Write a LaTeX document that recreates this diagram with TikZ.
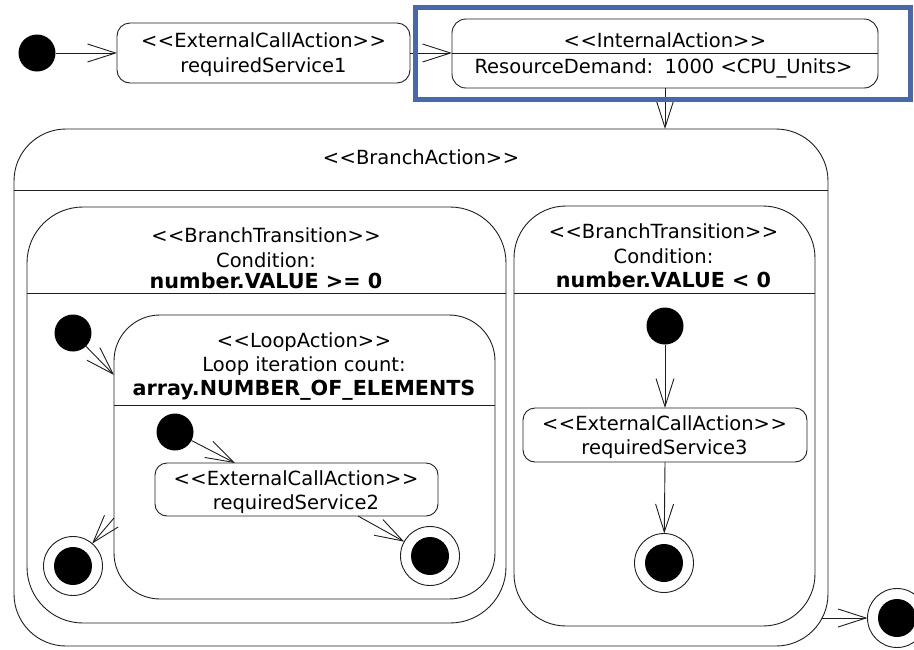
\documentclass[tikz,border=0pt]{standalone}
\usepackage{fontspec}
\setmainfont{DejaVu Sans}
\usetikzlibrary{arrows.meta}
\definecolor{linec}{RGB}{30,30,30}
\definecolor{hlblue}{RGB}{72,103,172}
\newcommand\guiL{<\kern0.5pt<}
\newcommand\guiR{>\kern0.5pt>}
\begin{document}
\begin{tikzpicture}[x=1pt,y=-1pt,
  every node/.style={inner sep=0pt, outer sep=0pt},
  txt/.style={font=\fontsize{19.5}{23}\selectfont, text=black, anchor=base},
  btxt/.style={txt, font=\fontsize{20.7}{24}\selectfont\bfseries},
  box/.style={rectangle, draw=linec, line width=0.9pt, rounded corners=#1},
  sep/.style={draw=linec, line width=0.9pt},
  dot/.style={circle, fill=black, minimum size=37pt},
  fin/.style={circle, draw=linec, line width=0.9pt, minimum size=59pt,
    path picture={\fill[black] (path picture bounding box.center) circle (19pt);}},
  arr/.style={draw=linec, line width=0.9pt, -{Straight Barb[length=28pt,width=18pt]}},
  hl/.style={draw=hlblue, line width=5pt}
]
\useasboundingbox (0,0) rectangle (914,649);

% top row
\node[dot] (s1) at (37,53) {};
\node[box=13pt, minimum width=293pt, minimum height=60pt] (eca1) at (263.5,53) {};
\node[txt] (eca1a) at (263.5,47) {\guiL ExternalCallAction\guiR};
\node[txt] (eca1b) at (263.5,72) {requiredService1};

\node[box=14pt, minimum width=426pt, minimum height=69pt] (ia) at (665,53.5) {};
\draw[sep] (ia.west |- 0,53) -- (ia.east |- 0,53);
\node[txt] (iaa) at (665,47) {\guiL InternalAction\guiR};
\node[txt] (iab) at (663.5,73) {ResourceDemand:\, 1000 <CPU\_Units>};

% branch action
\node[box=52pt, minimum width=814pt, minimum height=517pt] (ba) at (421,387.5) {};
\draw[sep] (ba.west |- 0,190) -- (ba.east |- 0,190);
\node[txt] (baa) at (421,164) {\guiL BranchAction\guiR};

% left branch transition
\node[box=56pt, minimum width=479pt, minimum height=416pt] (bt1) at (266.5,415) {};
\draw[sep] (bt1.west |- 0,293) -- (bt1.east |- 0,293);
\node[txt] (bt1a) at (266,242) {\guiL BranchTransition\guiR};
\node[txt] (bt1b) at (266,267) {Condition:};
\node[btxt] (bt1c) at (266,288) {number.VALUE >= 0};

% right branch transition
\node[box=52pt, minimum width=301pt, minimum height=420pt] (bt2) at (664.5,416) {};
\draw[sep] (bt2.west |- 0,293) -- (bt2.east |- 0,293);
\node[txt] (bt2a) at (663.5,238) {\guiL BranchTransition\guiR};
\node[txt] (bt2b) at (663.5,263) {Condition:};
\node[btxt] (bt2c) at (663.5,287) {number.VALUE < 0};

% loop action
\node[box=46pt, minimum width=381pt, minimum height=284pt] (loop) at (304.5,457) {};
\draw[sep] (loop.west |- 0,405) -- (loop.east |- 0,405);
\node[txt] (la) at (304,347) {\guiL LoopAction\guiR};
\node[txt] (lb) at (304,371) {Loop iteration count:};
\node[btxt] (lc) at (304,395) {array.NUMBER\_OF\_ELEMENTS};

\node[dot] (s2) at (73,333) {};
\node[fin] (f1) at (73,566) {};
\node[dot] (s3) at (175,432) {};
\node[box=12pt, minimum width=283pt, minimum height=53pt] (eca2) at (296.5,489.5) {};
\node[txt] (eca2a) at (296,485) {\guiL ExternalCallAction\guiR};
\node[txt] (eca2b) at (296,509) {requiredService2};
\node[fin] (f2) at (430,556) {};

\node[dot] (s4) at (665,326) {};
\node[box=12pt, minimum width=284pt, minimum height=54pt] (eca3) at (665,435) {};
\node[txt] (eca3a) at (664.5,430) {\guiL ExternalCallAction\guiR};
\node[txt] (eca3b) at (664.5,454) {requiredService3};
\node[fin] (f3) at (664,563) {};

\node[fin] (f4) at (897,618) {};

% helper coordinates on borders
\coordinate (lin) at (loop.west |- 0,375);
\coordinate (lout) at (loop.west |- 0,518);
\coordinate (e2in) at (235,0 |- eca2.north);
\coordinate (e2out) at (358,0 |- eca2.south);
\coordinate (baout) at (822,618);

% connectors
\draw[arr] (s1) -- (eca1.west);
\draw[arr] (eca1.east) -- (eca1.east -| ia.west);
\draw[arr] (ia.south) -- (ia.south |- ba.north);
\draw[arr] (s2) -- (lin);
\draw[arr] (lout) -- (f1);
\draw[arr] (s3) -- (e2in);
\draw[arr] (e2out) -- (f2);
\draw[arr] (s4) -- (eca3.north);
\draw[arr] (eca3.south) -- (f3);
\draw[arr] (baout) -- (f4);

% highlight frame
\draw[hl] (415.5,7) rectangle (910.5,99.5);
\end{tikzpicture}
\end{document}
